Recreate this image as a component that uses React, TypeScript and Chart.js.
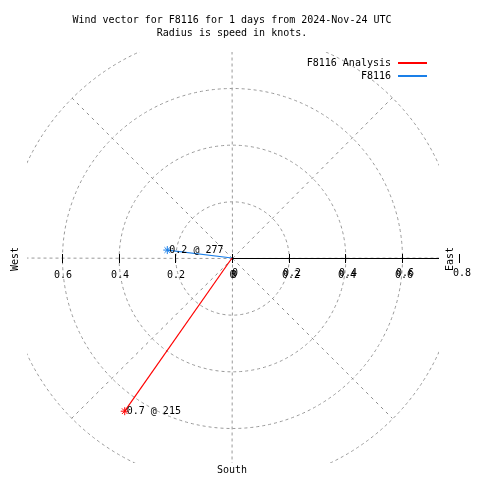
import React, { useEffect, useRef } from "react";
import { Chart, registerables } from "chart.js";

Chart.register(...registerables);

const titleLines = [
  "Wind vector for F8116 for 1 days from 2024-Nov-24 UTC",
  "Radius is speed in knots.",
];
const seriesNames = ["F8116 Analysis", "F8116"];
const speeds = [0.66, 0.23];
const directions = [215, 277];
const seriesColors = ["#ff0000", "#1a7fe8"];
const ringValues = [0.2, 0.4, 0.6, 0.8];
const spokeAngles = [0, 45, 90, 135, 180, 225, 270, 315];
const leftTicks = [0.2, 0.4, 0.6];
const rightTicks = [0, 0.2, 0.4, 0.6, 0.8];
const xRange = [-0.7235, 0.7306];
const yRange = [-0.7235, 0.7271];
const compassLabels = ["West", "East", "South"];

const FONT = "10px 'DejaVu Sans Mono', monospace";
const GRID = "#999999";

const toXY = (s: number, d: number) => {
  const t = (d * Math.PI) / 180;
  return { x: s * Math.sin(t), y: s * Math.cos(t) };
};

const polarPlugin = {
  id: "polarGrid",
  beforeDatasetsDraw(chart: any) {
    const { ctx, chartArea: a, scales } = chart;
    const xs = scales.x;
    const ys = scales.y;
    const cx = Math.round(xs.getPixelForValue(0)) + 0.5;
    const cy = Math.round(ys.getPixelForValue(0)) + 0.5;
    const unit = xs.getPixelForValue(1) - xs.getPixelForValue(0);
    const maxR = ringValues[ringValues.length - 1];

    ctx.save();
    ctx.beginPath();
    ctx.rect(a.left, a.top, a.right - a.left, a.bottom - a.top);
    ctx.clip();
    ctx.strokeStyle = GRID;
    ctx.lineWidth = 1;
    ctx.setLineDash([3, 3]);
    ringValues.forEach((r) => {
      ctx.beginPath();
      ctx.arc(cx, cy, r * unit, 0, Math.PI * 2);
      ctx.stroke();
    });
    spokeAngles.forEach((ang) => {
      const p = toXY(maxR, ang);
      const diag = ang % 90 !== 0;
      ctx.setLineDash(diag ? [3, 4] : [3, 3]);
      ctx.strokeStyle = diag ? "#8c8c8c" : GRID;
      ctx.beginPath();
      ctx.moveTo(cx, cy);
      ctx.lineTo(xs.getPixelForValue(p.x), ys.getPixelForValue(p.y));
      ctx.stroke();
    });
    ctx.restore();

    // horizontal axis (east side solid)
    ctx.save();
    ctx.setLineDash([]);
    ctx.strokeStyle = "#000";
    ctx.lineWidth = 1;
    ctx.beginPath();
    ctx.moveTo(cx, cy);
    ctx.lineTo(a.right, cy);
    ctx.stroke();
    const drawTick = (px: number) => {
      const x = Math.round(px) + 0.5;
      ctx.beginPath();
      ctx.moveTo(x, cy - 4.5);
      ctx.lineTo(x, cy + 4.5);
      ctx.stroke();
    };
    ctx.font = FONT;
    ctx.fillStyle = "#000";
    ctx.textAlign = "center";
    ctx.textBaseline = "middle";
    leftTicks.forEach((v) => {
      const px = xs.getPixelForValue(-v);
      drawTick(px);
      ctx.fillText(String(v), Math.round(px) + 1, cy + 17);
    });
    ctx.fillText("0", cx, cy + 17);
    rightTicks.forEach((v) => {
      const px = xs.getPixelForValue(v);
      drawTick(px);
      if (v < maxR) ctx.fillText(String(v), Math.round(px) + 2, cy + 17);
      ctx.fillText(String(v), Math.round(px) + 3, cy + 15);
    });
    ctx.restore();
  },
  afterDatasetsDraw(chart: any) {
    const { ctx, scales } = chart;
    const xs = scales.x;
    const ys = scales.y;
    const cx = xs.getPixelForValue(0);
    const cy = ys.getPixelForValue(0);
    ctx.save();
    ctx.font = FONT;
    ctx.fillStyle = "#000";
    ctx.textBaseline = "middle";
    // vector labels
    ctx.textAlign = "left";
    speeds.forEach((s, i) => {
      const p = toXY(s, directions[i]);
      const px = xs.getPixelForValue(p.x);
      const py = ys.getPixelForValue(p.y);
      ctx.fillText(`${s.toFixed(1)} @ ${directions[i]}`, px + 2, py);
    });
    // title
    ctx.textAlign = "center";
    titleLines.forEach((t, i) => ctx.fillText(t, cx, 20 + i * 13));
    // South
    ctx.fillText(compassLabels[2], cx, 470);
    // West / East rotated
    const rot = (text: string, x: number, y: number) => {
      ctx.save();
      ctx.translate(x, y);
      ctx.rotate(-Math.PI / 2);
      ctx.fillText(text, 0, 0);
      ctx.restore();
    };
    rot(compassLabels[0], 15, cy + 1);
    rot(compassLabels[1], 450, cy + 1);
    // legend
    ctx.textAlign = "right";
    seriesNames.forEach((n, i) => {
      const y = 63 + i * 13;
      ctx.fillStyle = "#000";
      ctx.fillText(n, 391, y);
      ctx.strokeStyle = seriesColors[i];
      ctx.lineWidth = 2;
      ctx.beginPath();
      ctx.moveTo(398, Math.round(y));
      ctx.lineTo(427, Math.round(y));
      ctx.stroke();
    });
    ctx.restore();
  },
};

export default function App() {
  const ref = useRef<HTMLCanvasElement | null>(null);
  useEffect(() => {
    document.body.style.margin = "0";
    const canvas = ref.current;
    if (!canvas) return;
    const datasets = speeds.map((s, i) => {
      const p = toXY(s, directions[i]);
      return {
        label: seriesNames[i],
        data: [
          { x: 0, y: 0 },
          { x: p.x, y: p.y },
        ],
        showLine: true,
        borderColor: seriesColors[i],
        backgroundColor: seriesColors[i],
        borderWidth: 1.2,
        pointRadius: [0, 4],
        pointStyle: "star",
        pointBorderColor: seriesColors[i],
        pointBorderWidth: 1,
      };
    });
    const chart = new Chart(canvas, {
      type: "scatter",
      data: { datasets: datasets as any },
      options: {
        animation: false,
        responsive: false,
        devicePixelRatio: 1,
        layout: { padding: { left: 27, top: 52, right: 41, bottom: 17 } },
        scales: {
          x: { type: "linear", display: false, min: xRange[0], max: xRange[1] },
          y: { type: "linear", display: false, min: yRange[0], max: yRange[1] },
        },
        plugins: {
          legend: { display: false },
          title: { display: false },
          tooltip: { enabled: false },
        },
      },
      plugins: [polarPlugin as any],
    });
    return () => chart.destroy();
  }, []);
  return (
    <div style={{ width: 480, height: 480, background: "#fff" }}>
      <canvas ref={ref} width={480} height={480} style={{ display: "block" }} />
    </div>
  );
}
